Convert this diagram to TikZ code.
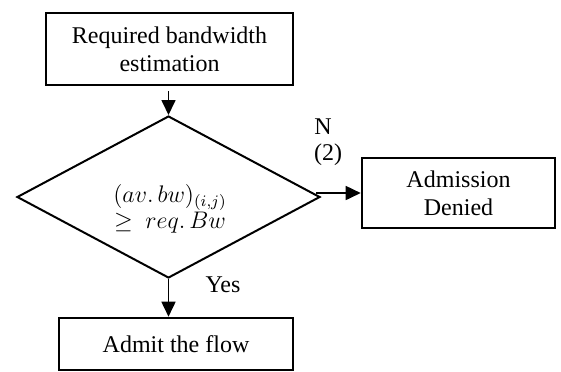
\documentclass[tikz,border=0pt]{standalone}
\usepackage{fontspec}
\setmainfont{Liberation Serif}
\usetikzlibrary{shapes.geometric,arrows.meta,calc}
\begin{document}
\begin{tikzpicture}[x=0.5pt,y=-0.5pt,
  every node/.style={font=\fontsize{12}{13.8}\selectfont},
  box/.style={draw, line width=1.3pt, align=center, inner sep=0pt},
  decision/.style={diamond, draw, line width=1pt, aspect=1.87, inner sep=0pt,
    minimum width=151.5pt, minimum height=81pt},
  arr/.style={line width=0.85pt, -{Triangle[length=7.5pt,width=7pt]}},
  lbl/.style={inner sep=0pt, align=center}]
\useasboundingbox (0,0) rectangle (561,371);
\node[box, minimum width=123.5pt, minimum height=36pt] (req) at (169.5,49)
  {Required bandwidth\\estimation};
\node[decision] (d) at (168.5,197) {};
\node[lbl] (dt) at (170,209)
  {$(av.\,bw)_{(i,j)}$\\[-1pt]$\geq\ req.\,Bw$};
\node[box, minimum width=96.5pt, minimum height=35pt] (ad) at (458.5,193)
  {Admission\\Denied};
\node[box, minimum width=117pt, minimum height=26pt] (af) at (176,344)
  {Admit the flow};
\draw[arr] ([yshift=-2.5pt]req.south -| d.north) -- (d.north);
\draw[arr] ($(d.east |- ad.west)+(-2.5pt,0)$) -- (ad.west);
\draw[arr] (d.south) -- (d.south |- af.north);
\node[lbl] (n) at (323,127) {N};
\node[lbl] (two) at (328,155) {(2)};
\node[lbl] (yes) at (223,285) {Yes};
\end{tikzpicture}
\end{document}
